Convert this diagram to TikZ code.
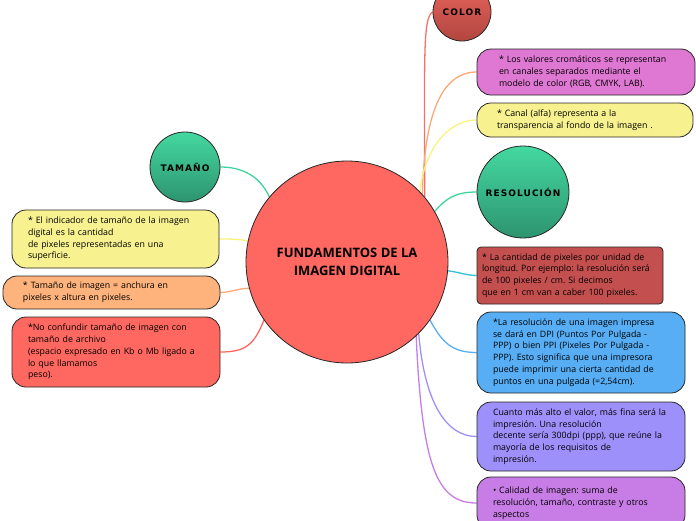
\documentclass[tikz,border=0pt]{standalone}
\usepackage{fontspec}
\setmainfont{Open Sans}
\newfontfamily\bubblefont[LetterSpace=12]{DejaVu Sans}
\usetikzlibrary{backgrounds}
\frenchspacing

\definecolor{mainred}{HTML}{FF6861}
\definecolor{colortop}{HTML}{E8645C}
\definecolor{colorbot}{HTML}{B0463F}
\definecolor{greentop}{HTML}{44D8A0}
\definecolor{greenbot}{HTML}{2D9470}
\definecolor{notepink}{HTML}{DF78D3}
\definecolor{noteyellow}{HTML}{F7F190}
\definecolor{notedark}{HTML}{C44F4F}
\definecolor{noteblue}{HTML}{57AEF5}
\definecolor{notepurple}{HTML}{9E90FA}
\definecolor{noteviolet}{HTML}{C87DE6}
\definecolor{noteorange}{HTML}{FDB37B}
\definecolor{linkred}{HTML}{F4706A}
\definecolor{linkorange}{HTML}{FDA877}
\definecolor{linkyellow}{HTML}{F9F27C}
\definecolor{linkgreen}{HTML}{3FD49C}
\definecolor{linkcyan}{HTML}{2EC4D4}

\tikzset{
  topic/.style={circle, draw=black!85, line width=0.8pt, inner sep=0pt,
    font=\bubblefont\bfseries\fontsize{9}{10}\selectfont},
  note/.style={draw=black!85, line width=0.8pt, rounded corners=14pt, align=left,
    inner ysep=0pt, font=\frenchspacing\fontsize{8.8}{11.8}\selectfont},
  link/.style={line width=1.3pt}
}

\begin{document}
\begin{tikzpicture}[x=1pt,y=-1pt]
   \useasboundingbox (0,0) rectangle (696,520);

   \node[circle, draw=black!85, line width=0.8pt, fill=mainred, minimum size=202pt, inner sep=0pt, align=center, font=\bfseries\fontsize{13}{17.7}\selectfont] (main) at (347,262) {FUNDAMENTOS DE LA\\IMAGEN DIGITAL};

   \node[topic, top color=colortop, bottom color=colorbot, minimum size=58pt] (color) at (462,12) {COLOR};
   \node[topic, top color=greentop, bottom color=greenbot, minimum size=92pt] (resolucion) at (523,192) {RESOLUCIÓN};
   \node[topic, top color=greentop, bottom color=greenbot, minimum size=70pt] (tamano) at (185,167) {TAMAÑO};

   \node[note, fill=notepink, minimum width=218pt, minimum height=46pt, inner xsep=22pt, text width=174pt] (valores) at (586,72) {* Los valores cromáticos se representan\\en canales separados mediante el\\modelo de color (RGB, CMYK, LAB).};
   \node[note, fill=noteyellow, minimum width=216pt, minimum height=34pt, inner xsep=20pt, text width=176pt] (alfa) at (585,120) {* Canal (alfa) representa a la\\transparencia al fondo de la imagen .};
   \node[note, fill=notedark, rounded corners=4pt, minimum width=186pt, minimum height=57pt, inner xsep=5pt, text width=176pt] (cantidad) at (570,275.5) {* La cantidad de pixeles por unidad de\\longitud. Por ejemplo: la resolución será\\de 100 pixeles / cm. Si decimos\\que en 1 cm van a caber 100 pixeles.};
   \node[note, fill=noteblue, minimum width=208pt, minimum height=81pt, inner xsep=16pt, text width=176pt] (dpi) at (581,352.5) {*La resolución de una imagen impresa\\se dará en DPI (Puntos Por Pulgada -\\PPP) o bien PPI (Pixeles Por Pulgada -\\PPP). Esto significa que una impresora\\puede imprimir una cierta cantidad de\\puntos en una pulgada (=2,54cm).};
   \node[note, fill=notepurple, minimum width=208pt, minimum height=69pt, inner xsep=16pt, text width=176pt] (cuanto) at (581,436.5) {Cuanto más alto el valor, más fina será la\\impresión. Una resolución\\decente sería 300dpi (ppp), que reúne la\\mayoría de los requisitos de\\impresión.};
   \node[note, fill=noteviolet, minimum width=208pt, minimum height=52pt, inner xsep=16pt, text width=176pt] (calidad) at (581,503) {• Calidad de imagen: suma de\\resolución, tamaño, contraste y otros\\aspectos};

   \node[note, fill=noteyellow, minimum width=207pt, minimum height=58pt, inner xsep=16pt, text width=175pt] (indicador) at (115.5,239) {* El indicador de tamaño de la imagen\\digital es la cantidad\\de pixeles representadas en una\\superficie.};
   \node[note, fill=noteorange, minimum width=217pt, minimum height=33pt, inner xsep=20pt, text width=177pt] (anchura) at (111.5,292.5) {* Tamaño de imagen = anchura en\\pixeles x altura en pixeles.};
   \node[note, fill=mainred, minimum width=208pt, minimum height=70pt, inner xsep=16pt, text width=176pt] (archivo) at (116,352) {*No confundir tamaño de imagen con\\tamaño de archivo\\(espacio expresado en Kb o Mb ligado a\\lo que llamamos\\peso).};

   \begin{pgfonlayer}{background}
   \draw[link, linkred] (main.40) .. controls +(0,-140) and +(-10,6) .. (color.west);
   \draw[link, linkorange] (main.42) .. controls +(2,-80) and +(-35,0) .. (valores.west);
   \draw[link, linkyellow] (main.44) .. controls +(4,-40) and +(-30,0) .. (alfa.west);
   \draw[link, linkgreen] (main.30) .. controls +(12,-14) and +(-20,0) .. (resolucion.west);
   \draw[link, linkcyan] (main.-5) .. controls +(10,1) and +(-10,0) .. (cantidad.west);
   \draw[link, noteblue] (main.-35) .. controls +(12,22) and +(-25,0) .. (dpi.west);
   \draw[link, notepurple] (main.-45) .. controls +(6,70) and +(-30,0) .. (cuanto.west);
   \draw[link, noteviolet] (main.-47) .. controls +(6,130) and +(-40,0) .. (calidad.west);
   \draw[link, linkgreen] (main.140) .. controls +(-10,-22) and +(20,0) .. (tamano.east);
   \draw[link, linkyellow] (main.168) .. controls +(-10,-2) and +(10,0) .. (indicador.east);
   \draw[link, linkorange] (main.195) .. controls +(-10,0) and +(10,0) .. (anchura.east);
   \draw[link, mainred] (main.215) .. controls +(-10,25) and +(25,0) .. (archivo.east);
   \end{pgfonlayer}
\end{tikzpicture}
\end{document}
